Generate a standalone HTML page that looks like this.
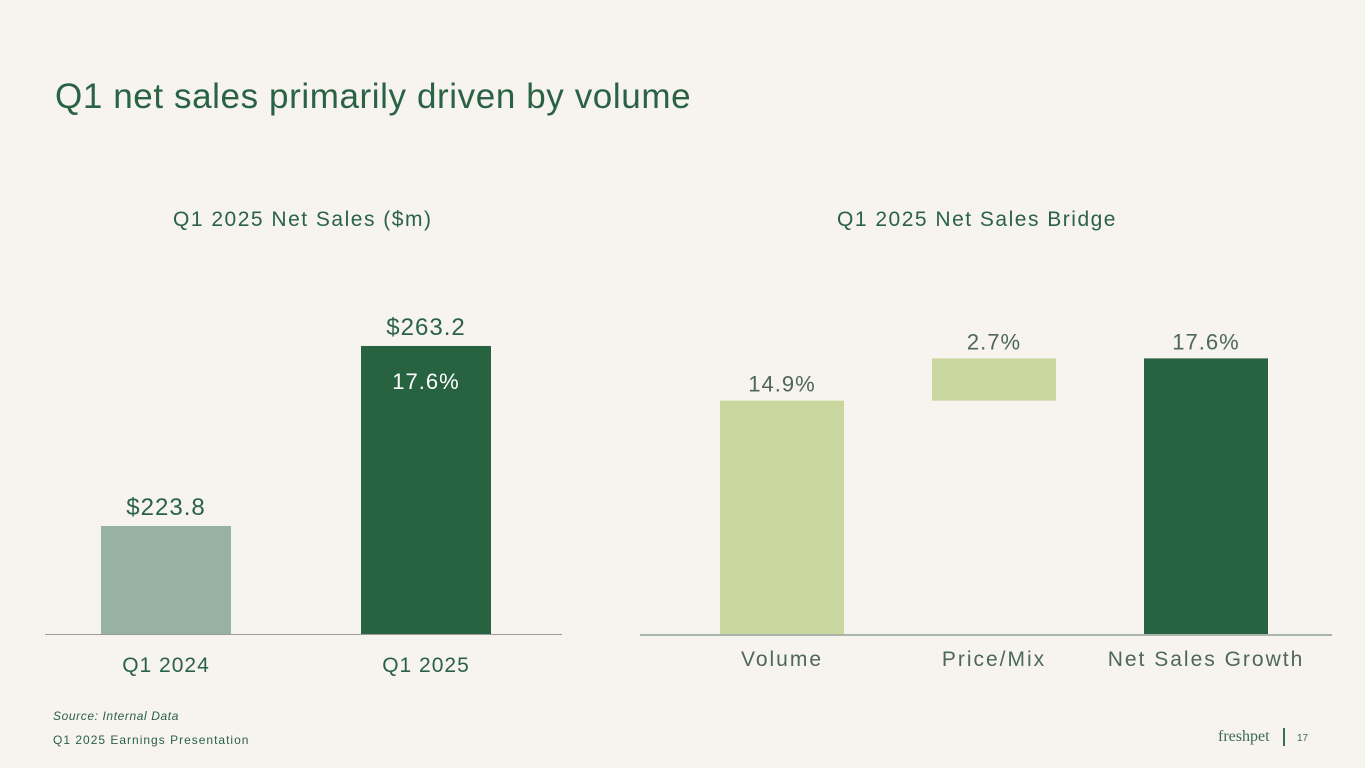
<!DOCTYPE html>
<html><head><meta charset="utf-8"><style>
body{margin:0;width:1365px;height:768px;background:#f7f3ef;font-family:"Liberation Sans",sans-serif;overflow:hidden;position:relative}
.t{position:absolute;white-space:nowrap}
</style></head><body>
<div class="t" style="left:55px;top:77px;font-size:35px;letter-spacing:0.6px;color:#2a6244">Q1 net sales primarily driven by volume</div>
<div class="t" style="left:173px;top:208px;font-size:21px;letter-spacing:1.5px;color:#2a6244">Q1 2025 Net Sales ($m)</div>
<div class="t" style="left:837px;top:208px;font-size:21px;letter-spacing:1.5px;color:#2a6244">Q1 2025 Net Sales Bridge</div>
<svg width="1365" height="768" style="position:absolute;left:0;top:0">
<g id="left"></g><g id="right"></g>
<line x1="45" y1="634.5" x2="562" y2="634.5" stroke="#9a9a9a"/>
<line x1="640" y1="635" x2="1332" y2="635" stroke="#5a7a6a"/>
</svg>
<div class="t" style="left:53px;top:709px;font-size:12px;letter-spacing:0.6px;font-style:italic;color:#2a6244">Source: Internal Data</div>
<div class="t" style="left:53px;top:733px;font-size:12px;letter-spacing:1px;color:#2a6244">Q1 2025 Earnings Presentation</div>
<div class="t" style="left:1218px;top:728px;font-size:16px;font-family:'Liberation Serif',serif;color:#3c6a52">freshpet</div>
<div style="position:absolute;left:1283px;top:728px;width:2px;height:18px;background:#3c6a52"></div>
<div class="t" style="left:1297px;top:733px;font-size:10px;color:#3c6a52">17</div>
<script>
const ns="http://www.w3.org/2000/svg";
const leftCats=["Q1 2024","Q1 2025"];
const leftVals=[223.8,263.2];
const leftLabels=["$223.8","$263.2"];
const growthLabel="17.6%";
const bridgeCats=["Volume","Price/Mix","Net Sales Growth"];
const bridgeVals=[14.9,2.7,17.6];
const bridgeLabels=["14.9%","2.7%","17.6%"];
function mk(tag,attrs,parent){const e=document.createElementNS(ns,tag);for(const k in attrs)e.setAttribute(k,attrs[k]);parent.appendChild(e);return e;}
const L=document.getElementById('left'),R=document.getElementById('right');
const base=634,lMin=200.16,lK=4.569;
const ly=v=>base-(v-lMin)*lK;
const lx=i=>101+i*260;
leftVals.forEach((v,i)=>{
 const r=mk('rect',{x:lx(i),y:ly(v),width:130,height:base-ly(v),fill:i?'#276241':'#97b2a0'},L);
 
 
 const t=mk('text',{x:lx(i)+65,y:ly(v)-11,'text-anchor':'middle','font-size':24,'letter-spacing':1,fill:'#2a6244','font-family':'Liberation Sans'},L);t.textContent=leftLabels[i];
 
 
 const c=mk('text',{x:lx(i)+65,y:672,'text-anchor':'middle','font-size':21,'letter-spacing':1,fill:'#2a6244'},L);c.textContent=leftCats[i];
 
 
});
const g=mk('text',{x:lx(1)+65,y:ly(leftVals[1])+43,'text-anchor':'middle','font-size':22,'letter-spacing':1,fill:'#ffffff'},L);g.textContent=growthLabel;


const rK=15.66;const ry=v=>base-v*rK;const rx=i=>720+i*212;
let cum=0;
bridgeVals.forEach((v,i)=>{
 const last=i===bridgeVals.length-1;
 const start=last?0:cum;const end=last?v:cum+v;
 const r=mk('rect',{x:rx(i),y:ry(end),width:124,height:ry(start)-ry(end),fill:last?'#276241':'#c9d79f'},R);
 
 
 const t=mk('text',{x:rx(i)+62,y:ry(end)-9,'text-anchor':'middle','font-size':22,'letter-spacing':1,fill:'#4d6858'},R);t.textContent=bridgeLabels[i];
 
 
 const c=mk('text',{x:rx(i)+62,y:666,'text-anchor':'middle','font-size':21,'letter-spacing':2,fill:'#4d6858'},R);c.textContent=bridgeCats[i];
 
 
 if(!last)cum+=v;
});
</script>
</body></html>
